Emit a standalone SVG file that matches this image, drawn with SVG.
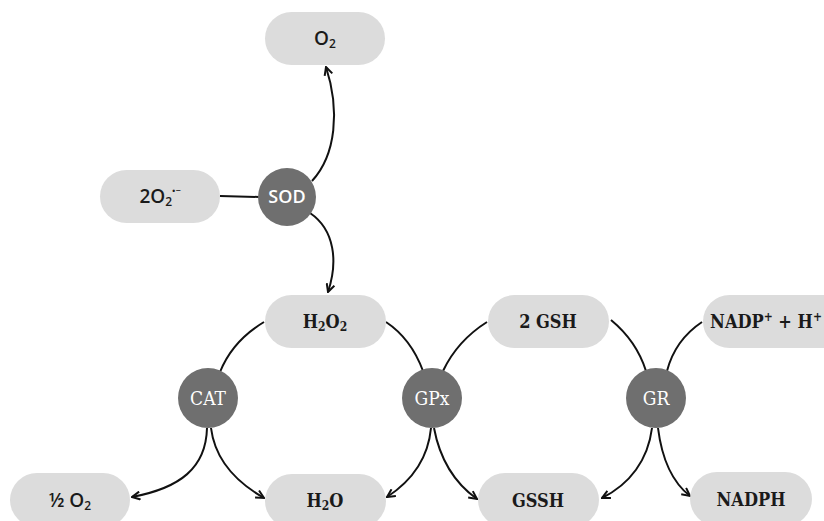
<svg xmlns="http://www.w3.org/2000/svg" width="824" height="521" viewBox="0 0 824 521">
<style>
.pill{fill:#dcdcdc}
.enz{fill:#6f6f6f}
.t{font-family:"DejaVu Serif","Liberation Serif",serif;font-stretch:condensed;font-weight:bold;font-size:18px;fill:#1a1a1a;text-anchor:middle}
.s{font-family:"Open Sans","Noto Sans",sans-serif;font-weight:600;font-size:19px;fill:#1a1a1a;text-anchor:middle}
.et{font-family:"DejaVu Serif","Liberation Serif",serif;font-stretch:condensed;font-size:19px;fill:#ffffff;text-anchor:middle}
.es{font-family:"Open Sans","Noto Sans",sans-serif;font-weight:600;font-size:18px;fill:#ffffff;text-anchor:middle}
.c{fill:none;stroke:#111;stroke-width:2}
.sub{font-size:12px}
</style>
<defs>
<marker id="ah" viewBox="0 0 10 10" refX="9" refY="5" markerWidth="10" markerHeight="10" markerUnits="userSpaceOnUse" orient="auto">
<path d="M1,1 L9,5 L1,9" fill="none" stroke="#111" stroke-width="2"/>
</marker>
</defs>
<g id="connectors">
<path class="c" d="M220,196 L259,197" stroke-width="3"/>
<path class="c" d="M312,181 C336,155 340,110 326,67" marker-end="url(#ah)"/>
<path class="c" d="M310,213 C335,230 338,262 328,292" marker-end="url(#ah)"/>
<path class="c" d="M264,322 C244,334 228,352 220,372"/>
<path class="c" d="M386,322 C404,334 416,352 423,371"/>
<path class="c" d="M487,322 C468,334 452,352 443,371"/>
<path class="c" d="M611,320 C628,334 640,352 646,371"/>
<path class="c" d="M702,322 C684,334 672,352 667,371"/>
<path class="c" d="M207,428 C206,468 180,488 132,497" marker-end="url(#ah)"/>
<path class="c" d="M211,428 C215,460 236,482 264,498" marker-end="url(#ah)"/>
<path class="c" d="M431,428 C428,460 410,482 387,497" marker-end="url(#ah)"/>
<path class="c" d="M434,428 C440,460 456,484 477,499" marker-end="url(#ah)"/>
<path class="c" d="M652,428 C648,460 630,484 602,498" marker-end="url(#ah)"/>
<path class="c" d="M658,428 C662,460 672,482 690,496" marker-end="url(#ah)"/>
</g>
<g id="o2">
<rect class="pill" x="265" y="12" width="120" height="53" rx="26.5"/>
<text class="s" x="325" y="45">O<tspan class="sub" dy="3">2</tspan></text>
</g>
<g id="superoxide">
<rect class="pill" x="100" y="170" width="120" height="53" rx="26.5"/>
<text class="s" x="160" y="203">2O<tspan class="sub" dy="3">2</tspan><tspan font-size="9" dy="-12">•−</tspan></text>
</g>
<g id="sod">
<circle class="enz" cx="287" cy="197" r="29"/>
<text class="es" x="287" y="203">SOD</text>
</g>
<g id="h2o2">
<rect class="pill" x="265" y="295" width="121" height="53" rx="26.5"/>
<text class="t" x="325" y="328">H<tspan class="sub" dy="3">2</tspan><tspan dy="-3">O</tspan><tspan class="sub" dy="3">2</tspan></text>
</g>
<g id="gsh">
<rect class="pill" x="488" y="295" width="121" height="53" rx="26.5"/>
<text class="t" x="548" y="328">2 GSH</text>
</g>
<g id="nadp">
<rect class="pill" x="703" y="295" width="150" height="53" rx="26.5"/>
<text class="t" x="766" y="328">NADP<tspan class="sub" dy="-7">+</tspan><tspan dy="7"> + H</tspan><tspan class="sub" dy="-7">+</tspan></text>
</g>
<g id="cat">
<circle class="enz" cx="208" cy="398" r="30"/>
<text class="et" x="208" y="405">CAT</text>
</g>
<g id="gpx">
<circle class="enz" cx="432" cy="398" r="30"/>
<text class="et" x="432" y="405">GPx</text>
</g>
<g id="gr">
<circle class="enz" cx="656" cy="398" r="30"/>
<text class="et" x="656" y="405">GR</text>
</g>
<g id="half-o2">
<rect class="pill" x="10" y="473" width="120" height="54" rx="27"/>
<text class="s" x="70" y="507">½ O<tspan class="sub" dy="3">2</tspan></text>
</g>
<g id="h2o">
<rect class="pill" x="265" y="474" width="121" height="54" rx="27"/>
<text class="t" x="325" y="507">H<tspan class="sub" dy="3">2</tspan><tspan dy="-3">O</tspan></text>
</g>
<g id="gssh">
<rect class="pill" x="478" y="473" width="121" height="54" rx="27"/>
<text class="t" x="538" y="507">GSSH</text>
</g>
<g id="nadph">
<rect class="pill" x="690" y="472" width="122" height="54" rx="27"/>
<text class="t" x="751" y="506">NADPH</text>
</g>
</svg>
